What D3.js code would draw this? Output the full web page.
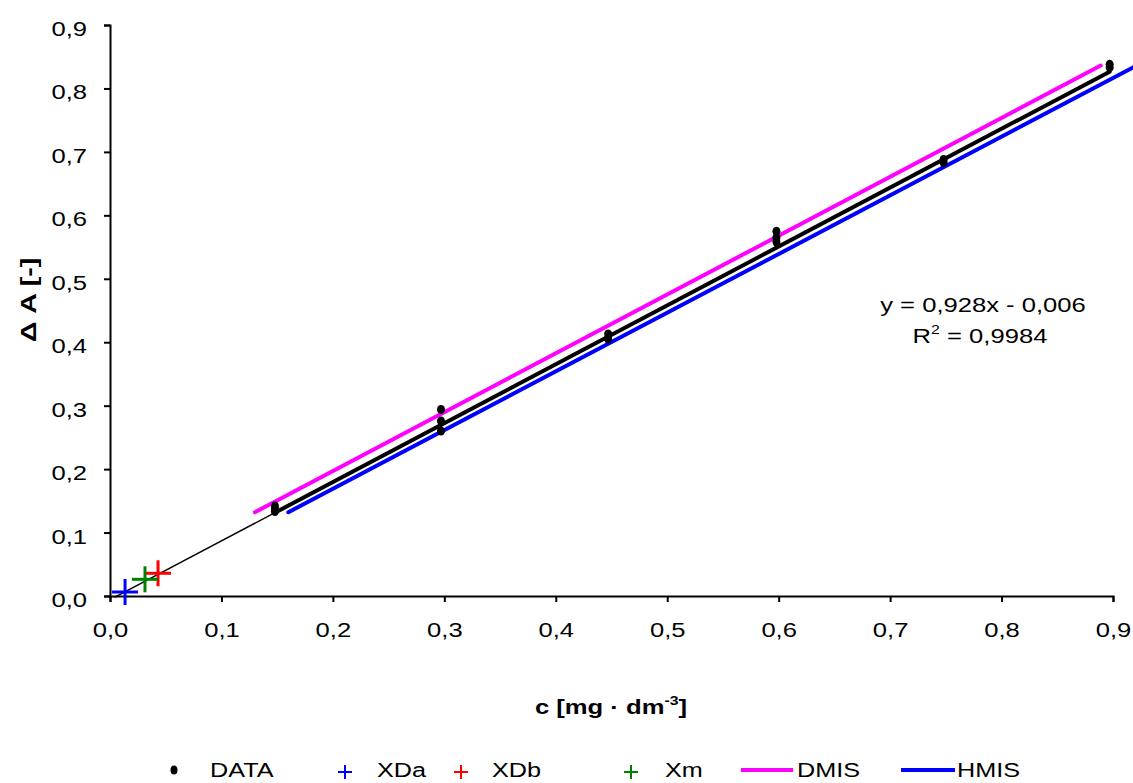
<!DOCTYPE html>
<html><head><meta charset="utf-8">
<script src="https://cdn.jsdelivr.net/npm/d3@7"></script>
<style>body{margin:0;background:#fff}svg{display:block}text{font-family:"Liberation Sans",Arial,sans-serif}</style>
</head><body>
<script>
// ---- data ----
const dataX = [0.148,0.148,0.148,0.297,0.297,0.297,0.447,0.447,0.598,0.598,0.598,0.748,0.748,0.897,0.897];
const dataY = [0.142,0.137,0.133,0.294,0.276,0.260,0.413,0.405,0.575,0.565,0.558,0.688,0.683,0.838,0.833];
const slope = 0.928, intercept = -0.006;
const fitThinX = [0.004, 0.148];
const fitThickX = [0.148, 0.897];
const dmisX = [0.130, 0.889], dmisY = [0.132, 0.836];
const hmisX = [0.160, 0.920], hmisY = [0.132, 0.835];
const crossNames = ["XDa","XDb","Xm"];
const crossX = [0.0135, 0.0431, 0.0314];
const crossY = [0.0063, 0.0358, 0.0263];
const crossColors = ["#0000ff","#ff0000","#008000"];
const ticks = [0,0.1,0.2,0.3,0.4,0.5,0.6,0.7,0.8,0.9];
const legendNames = ["DATA","XDa","XDb","Xm","DMIS","HMIS"];
const eqText = "y = 0,928x - 0,006";
const r2Text = "0,9984";

const W=1133,H=783;
const SX=1.22;
const svg=d3.select("body").append("svg").attr("width",W).attr("height",H);
const x=d3.scaleLinear().domain([0,0.9]).range([110,1113]);
const y=d3.scaleLinear().domain([0,0.9]).range([596,25]);
const fmt=d=>d3.format(".1f")(d).replace(".",",");
const FS=21;

function stretch(sel,sx){
  sel.each(function(){
    const t=d3.select(this);
    const tx=+t.attr("x")||0, ty=+t.attr("y")||0;
    const prev=t.attr("transform")||"";
    t.attr("x",0).attr("y",0).attr("transform",`${prev} translate(${tx},${ty}) scale(${sx},1)`);
  });
}

// axes
const xAxis=svg.append("g").attr("transform","translate(0,596)")
  .call(d3.axisBottom(x).tickValues(ticks).tickFormat(fmt).tickSizeOuter(0).tickSize(6).tickPadding(20));
const yAxis=svg.append("g").attr("transform","translate(110,0)")
  .call(d3.axisLeft(y).tickValues(ticks).tickFormat(fmt).tickSizeOuter(0).tickSize(6).tickPadding(17));
[xAxis,yAxis].forEach(a=>{
  a.selectAll("path,line").attr("stroke","#000").attr("stroke-width",2);
  a.selectAll("text").attr("font-size",FS).attr("fill","#000").attr("font-family","Liberation Sans, Arial, sans-serif");
});
yAxis.selectAll("text").attr("dy","0.5em");
stretch(xAxis.selectAll("text"),SX);
stretch(yAxis.selectAll("text"),SX);

// lines
const line=d3.line().x(d=>x(d[0])).y(d=>y(d[1]));
svg.append("path").datum(fitThinX.map(v=>[v,slope*v+intercept])).attr("d",line)
  .attr("stroke","#000").attr("stroke-width",1.5).attr("fill","none");
svg.append("path").datum(dmisX.map((v,i)=>[v,dmisY[i]])).attr("d",line)
  .attr("stroke","#ff00ff").attr("stroke-width",4).attr("fill","none").attr("stroke-linecap","round");
svg.append("path").datum(hmisX.map((v,i)=>[v,hmisY[i]])).attr("d",line)
  .attr("stroke","#0000ff").attr("stroke-width",4).attr("fill","none").attr("stroke-linecap","round");
svg.append("path").datum(fitThickX.map(v=>[v,slope*v+intercept])).attr("d",line)
  .attr("stroke","#000").attr("stroke-width",4).attr("fill","none").attr("stroke-linecap","round");

// data points
svg.append("g").selectAll("ellipse").data(dataX.map((v,i)=>[v,dataY[i]])).join("ellipse")
  .attr("cx",d=>x(d[0])).attr("cy",d=>y(d[1])).attr("rx",4).attr("ry",4.5).attr("fill","#000");

// crosses
crossX.forEach((cx,i)=>{
  const px=x(cx), py=y(crossY[i]), s=13;
  const g=svg.append("g").attr("stroke",crossColors[i]).attr("stroke-width",3);
  g.append("line").attr("x1",px-s).attr("x2",px+s).attr("y1",py).attr("y2",py);
  g.append("line").attr("x1",px).attr("x2",px).attr("y1",py-s).attr("y2",py+s);
});

// equation
const eq=svg.append("text").attr("x",983).attr("y",312).attr("text-anchor","middle").attr("font-size",FS).text(eqText);
const r2=svg.append("text").attr("x",980).attr("y",343).attr("text-anchor","middle").attr("font-size",FS);
r2.append("tspan").text("R");
r2.append("tspan").attr("font-size",13).attr("dy",-9).text("2");
r2.append("tspan").attr("dy",9).text(" = "+r2Text);
stretch(eq,SX); stretch(r2,SX);

// axis titles
const xt=svg.append("text").attr("x",611).attr("y",714).attr("text-anchor","middle").attr("font-size",FS).attr("font-weight","bold");
xt.append("tspan").text("c [mg · dm");
xt.append("tspan").attr("font-size",13).attr("dy",-9).text("-3");
xt.append("tspan").attr("dy",9).text("]");
stretch(xt,SX);
svg.append("text").attr("transform","translate(36,300) rotate(-90) scale(1.3,1)").attr("text-anchor","middle")
  .attr("font-size",22).attr("font-weight","bold").text("Δ A [-]");

// legend
const ly=770;
const lg=svg.append("g");
lg.append("ellipse").attr("cx",174).attr("cy",ly).attr("rx",3.5).attr("ry",4.5).attr("fill","#000");
const legTextX=[210,377,492,665,797,957];
const crossLegX=[345,461,631];
crossLegX.forEach((px,i)=>{
  const g=lg.append("g").attr("stroke",crossColors[i]).attr("stroke-width",2);
  g.append("line").attr("x1",px-7).attr("x2",px+7).attr("y1",ly+2).attr("y2",ly+2);
  g.append("line").attr("x1",px).attr("x2",px).attr("y1",ly-5).attr("y2",ly+9);
});
lg.append("line").attr("x1",741).attr("x2",793).attr("y1",ly).attr("y2",ly).attr("stroke","#ff00ff").attr("stroke-width",4);
lg.append("line").attr("x1",901).attr("x2",955).attr("y1",ly).attr("y2",ly).attr("stroke","#0000ff").attr("stroke-width",4);
legendNames.forEach((n,i)=>{
  const t=lg.append("text").attr("x",legTextX[i]).attr("y",ly+7).attr("font-size",FS).text(n);
  stretch(t,1.2);
});
</script>
</body></html>
